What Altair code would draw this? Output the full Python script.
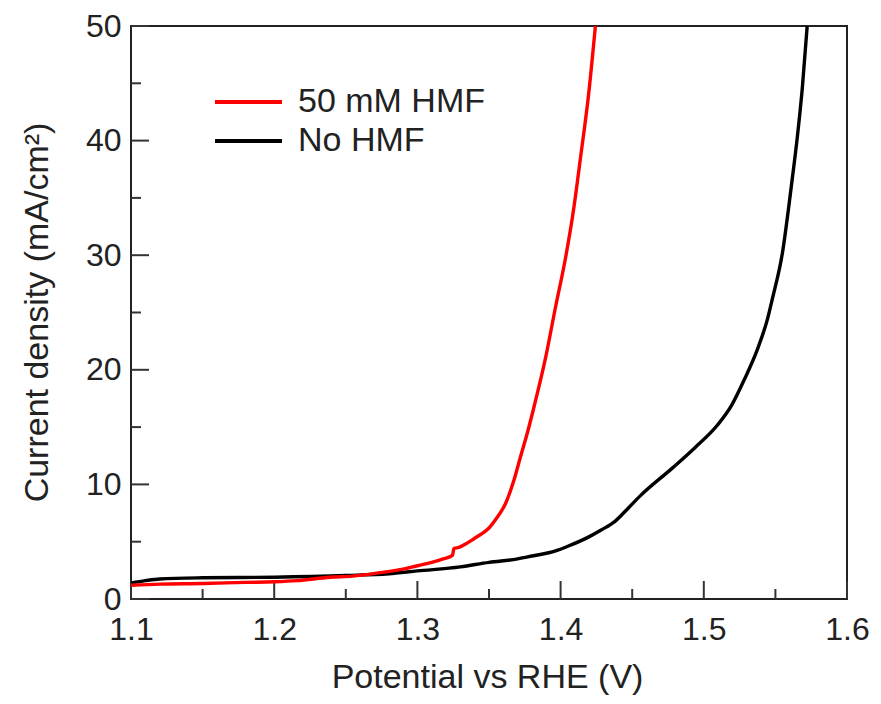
import altair as alt
import pandas as pd

# ---- data ----
series_names = ["50 mM HMF", "No HMF"]
series_colors = ["#ff0000", "#000000"]

hmf_v = [1.100, 1.120, 1.150, 1.180, 1.200, 1.216, 1.239, 1.255, 1.274, 1.290,
         1.300, 1.310, 1.318, 1.3245, 1.3255, 1.329, 1.335, 1.340, 1.345, 1.350,
         1.355, 1.3618, 1.367, 1.3722, 1.377, 1.3815, 1.3896, 1.3965, 1.4035,
         1.4092, 1.4139, 1.4197, 1.4243]
hmf_j = [1.2, 1.3, 1.35, 1.45, 1.5, 1.6, 1.9, 2.0, 2.3, 2.6,
         2.9, 3.2, 3.5, 3.8, 4.4, 4.5, 4.9, 5.3, 5.7, 6.2,
         7.0, 8.4, 10.2, 12.5, 14.6, 16.8, 21.1, 25.5, 29.8,
         34.1, 38.5, 44.2, 50.0]

no_v = [1.100, 1.110, 1.120, 1.150, 1.200, 1.250, 1.280, 1.300, 1.330, 1.350,
        1.370, 1.380, 1.3965, 1.405, 1.4194, 1.428, 1.4382, 1.447, 1.4556,
        1.4778, 1.4938, 1.5097, 1.5194, 1.5285, 1.5375, 1.5444, 1.5479, 1.5549,
        1.5611, 1.5653, 1.5688, 1.5722]
no_j = [1.4, 1.6, 1.75, 1.85, 1.9, 2.05, 2.2, 2.45, 2.8, 3.2,
        3.5, 3.75, 4.2, 4.6, 5.4, 6.0, 6.8, 7.9, 9.0,
        11.4, 13.2, 15.2, 16.9, 19.2, 21.8, 24.4, 26.2, 30.2,
        36.0, 40.3, 44.6, 50.0]

x_domain = [1.1, 1.6]
y_domain = [0, 50]
x_major = [1.1, 1.2, 1.3, 1.4, 1.5, 1.6]
x_minor = [1.15, 1.25, 1.35, 1.45, 1.55]
y_major = [0, 10, 20, 30, 40, 50]
y_minor = [5, 15, 25, 35, 45]

x_title = "Potential vs RHE (V)"
y_title = "Current density (mA/cm\u00b2)"

# ---- tables ----
lines = pd.concat([
    pd.DataFrame({"V": hmf_v, "J": hmf_j, "series": series_names[0]}),
    pd.DataFrame({"V": no_v, "J": no_j, "series": series_names[1]}),
], ignore_index=True)

W, H = 716, 573
FONT = "Liberation Sans"
TXT = "#222222"

xscale = alt.Scale(domain=x_domain, nice=False, zero=False)
yscale = alt.Scale(domain=y_domain, nice=False)

xaxis = alt.Axis(values=x_major, format=".1f", grid=False, domain=False,
                 ticks=False, tickSize=0, labelFontSize=32, labelPadding=15,
                 labelFlush=False, labelOverlap=False, labelColor=TXT,
                 labelFont=FONT, title=x_title, titleFont=FONT,
                 titleFontSize=34, titleFontWeight="normal", titleColor=TXT,
                 titleBaseline="alphabetic", titleX=356, titleY=88)
yaxis = alt.Axis(values=y_major, format="d", grid=False, domain=False,
                 ticks=False, tickSize=0, labelFontSize=32, labelPadding=10,
                 labelFlush=False, labelOverlap=False, labelColor=TXT,
                 labelFont=FONT, title=y_title, titleFont=FONT,
                 titleFontSize=34, titleFontWeight="normal", titleColor=TXT,
                 titleAngle=270, titleAlign="center", titleBaseline="middle",
                 titleX=-94, titleY=286, titleLimit=600)

color = alt.Color(
    "series:N",
    scale=alt.Scale(domain=series_names, range=series_colors),
    legend=alt.Legend(title=None, orient="none", legendX=82, legendY=59,
                      symbolType="stroke", symbolSize=4489,
                      symbolStrokeWidth=4, clipHeight=34,
                      labelFontSize=34, labelFont=FONT, labelColor=TXT,
                      labelOffset=14, labelLimit=0, rowPadding=5, padding=0),
)

base = alt.Chart(lines).mark_line(strokeWidth=3.4, clip=True,
                                  interpolate="monotone").encode(
    x=alt.X("V:Q", scale=xscale, axis=xaxis),
    y=alt.Y("J:Q", scale=yscale, axis=yaxis),
    color=color,
    order=alt.Order("V:Q"),
)
black = base.transform_filter(alt.datum.series == series_names[1])
red = base.transform_filter(alt.datum.series == series_names[0])

tick_color = "#333333"
xmaj = alt.Chart(pd.DataFrame({"V": x_major})).mark_rule(
    color=tick_color, strokeWidth=2).encode(
    x=alt.X("V:Q", scale=xscale, axis=xaxis),
    y=alt.value(H), y2=alt.value(H - 18))
xmin = alt.Chart(pd.DataFrame({"V": x_minor})).mark_rule(
    color=tick_color, strokeWidth=2).encode(
    x=alt.X("V:Q", scale=xscale, axis=xaxis),
    y=alt.value(H), y2=alt.value(H - 10))
ymaj = alt.Chart(pd.DataFrame({"J": y_major})).mark_rule(
    color=tick_color, strokeWidth=2).encode(
    y=alt.Y("J:Q", scale=yscale, axis=yaxis),
    x=alt.value(0), x2=alt.value(18))
ymin = alt.Chart(pd.DataFrame({"J": y_minor})).mark_rule(
    color=tick_color, strokeWidth=2).encode(
    y=alt.Y("J:Q", scale=yscale, axis=yaxis),
    x=alt.value(0), x2=alt.value(10))

chart = alt.layer(xmaj, xmin, ymaj, ymin, black, red).properties(
    width=W, height=H,
    autosize=alt.AutoSizeParams(type="none"),
    padding={"left": 123, "top": 18, "right": 26, "bottom": 97},
    background="white",
).configure_view(stroke="#222222", strokeWidth=2)

chart.save("out.html", embed_options={"renderer": "svg", "actions": False})
